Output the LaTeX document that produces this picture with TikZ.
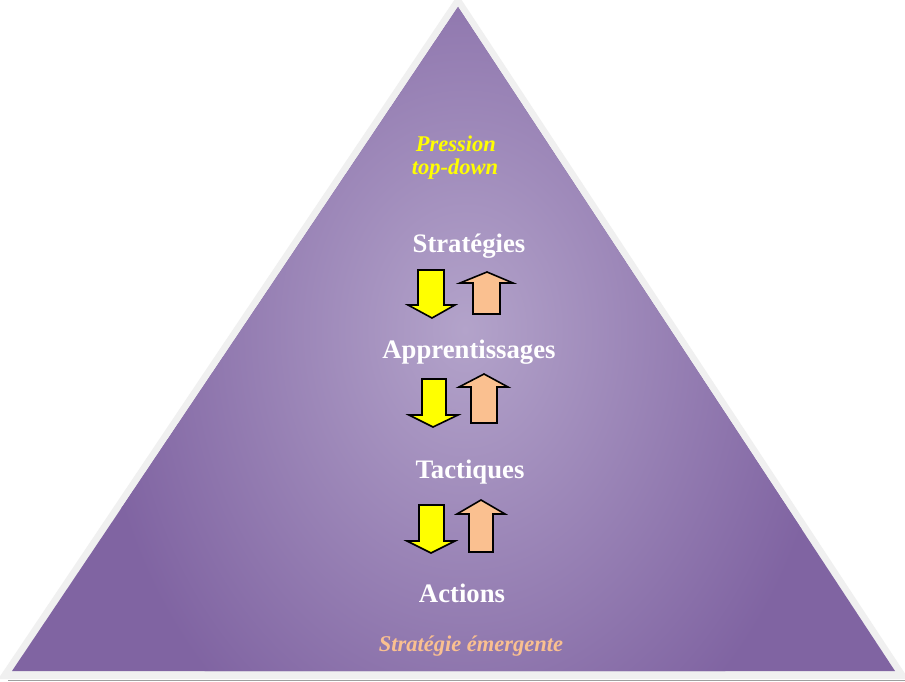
\documentclass[tikz,border=0pt]{standalone}
\usepackage{fontspec}
\setmainfont{Liberation Serif}
\definecolor{purp}{HTML}{8064A2}
\definecolor{purplight}{HTML}{B3A3CA}
\definecolor{bordergray}{HTML}{F0F0F0}
\definecolor{arrowyellow}{HTML}{FFFF00}
\definecolor{peach}{HTML}{FAC090}
\begin{document}
\begin{tikzpicture}[x=1pt,y=-1pt,
 lvl/.style={text=white,font=\fontsize{26.7}{30}\selectfont\bfseries,anchor=base,inner sep=0pt},
 note/.style={font=\fontsize{22.5}{24}\selectfont\bfseries\itshape,anchor=base,inner sep=0pt},
 downarr/.style={fill=arrowyellow,draw=black,line width=1.6pt,line join=miter},
 uparr/.style={fill=peach,draw=black,line width=1.6pt,line join=miter}]
\useasboundingbox (0,0) rectangle (905,682);
\fill[white] (0,0) rectangle (905,682);
\fill[bordergray] (458,-5.5) -- (-1.8,679) -- (908.6,679) -- cycle;
\draw[gray!75, line width=1.2pt] (8,680.5) -- (905,680.5);
\begin{scope}
\clip (458,7) -- (12,671) -- (895,671) -- cycle;
\fill[purp] (0,0) rectangle (905,682);
\shade[inner color=purplight, outer color=purp] (465,330) ellipse (370 and 480);
\end{scope}
% arrows
\draw[downarr] (418,270) -- (444,270) -- (444,305) -- (455,305) -- (432,318) -- (408,305) -- (418,305) -- cycle;
\draw[uparr] (487,272) -- (513,283) -- (500,283) -- (500,314) -- (473,314) -- (473,283) -- (460,283) -- cycle;
\draw[downarr] (422,379) -- (446,379) -- (446,415) -- (458,415) -- (433,427) -- (409,415) -- (422,415) -- cycle;
\draw[uparr] (484,374) -- (508,387) -- (497,387) -- (497,423) -- (471,423) -- (471,387) -- (459,387) -- cycle;
\draw[downarr] (419,505) -- (444,505) -- (444,541) -- (455,541) -- (431,553) -- (407,541) -- (419,541) -- cycle;
\draw[uparr] (481,500) -- (505,514) -- (493,514) -- (493,552) -- (469,552) -- (469,514) -- (457,514) -- cycle;
% texts
\node[note,text=arrowyellow] (pression) at (456,152) {Pression};
\node[note,text=arrowyellow] (topdown) at (455,175) {top-down};
\node[lvl] (strategies) at (469,252) {Stratégies};
\node[lvl] (apprent) at (469,358) {Apprentissages};
\node[lvl] (tactiques) at (470,478) {Tactiques};
\node[lvl] (actions) at (462,602) {Actions};
\node[note,text=peach] (emergente) at (471,651) {Stratégie émergente};
\end{tikzpicture}
\end{document}
